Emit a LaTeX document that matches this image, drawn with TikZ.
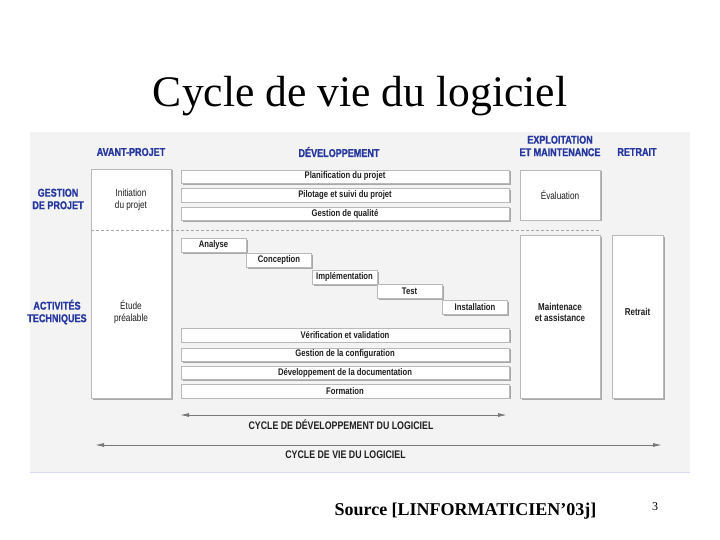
\documentclass[tikz,border=0pt]{standalone}
\usepackage{fontspec}
\setmainfont{Liberation Serif}
\newfontfamily\cond[FakeStretch=0.8]{Liberation Sans}
\newfontfamily\condhv[FakeStretch=0.8,FakeBold=1.2]{Liberation Sans Bold}
\usetikzlibrary{shadows,arrows.meta}
\definecolor{hdrblue}{RGB}{38,56,160}
\definecolor{scanbg}{RGB}{243,243,243}
\definecolor{boxtxt}{RGB}{30,30,30}
\definecolor{arrgray}{RGB}{120,120,120}
\begin{document}
\begin{tikzpicture}[x=1pt,y=-1pt,
  hdr/.style={font=\condhv\fontsize{11.3}{12.5}\selectfont, text=hdrblue, align=center, inner sep=0pt},
  panel/.style={draw=gray!55, line width=0.4pt, fill=white, inner sep=0pt,
    drop shadow={shadow xshift=1.5pt, shadow yshift=-1.5pt, fill=gray, opacity=0.65}},
  bar/.style={panel, minimum width=328pt, minimum height=13.5pt, font=\cond\bfseries\fontsize{9.6}{10}\selectfont, text=boxtxt},
  stepbox/.style={panel, minimum width=65pt, minimum height=14pt, font=\cond\bfseries\fontsize{9.6}{10}\selectfont, text=boxtxt},
  boxlabel/.style={font=\cond\fontsize{10.3}{12}\selectfont, text=boxtxt, align=center, inner sep=0pt},
  boxlabelb/.style={font=\cond\bfseries\fontsize{10}{11.5}\selectfont, text=boxtxt, align=center, inner sep=0pt},
  cyclabel/.style={font=\cond\bfseries\fontsize{11}{12}\selectfont, text=boxtxt, inner sep=0pt},
  cycarrow/.style={draw=arrgray, line width=0.9pt, {Latex[length=9pt,width=4pt]}-{Latex[length=9pt,width=4pt]}}
]
\useasboundingbox (0,0) rectangle (720,540);
\fill[white] (0,0) rectangle (720,540);
% scanned area
\fill[scanbg] (30,132) rectangle (690,472);
\draw[blue!15, line width=1pt] (30,472) -- (690,472);

% title
\node[anchor=base, font=\fontsize{43.6}{48}\selectfont] (title) at (360,107) {Cycle de vie du logiciel};

% column headers
\node[hdr] (hav) at (131,152) {AVANT-PROJET};
\node[hdr] (hdev) at (339,152) {DÉVELOPPEMENT};
\node[hdr] (hexp) at (560,146) {EXPLOITATION\\ET MAINTENANCE};
\node[hdr] (hret) at (637,152) {RETRAIT};
% row headers
\node[hdr] (hgest) at (58,199) {GESTION\\DE PROJET};
\node[hdr] (hact) at (57,312) {ACTIVITÉS\\TECHNIQUES};

% avant-projet box
\node[panel, minimum width=80pt, minimum height=229pt] (avant) at (131,283.5) {};
\node[boxlabel] (init) at (131,200) {Initiation\\du projet};
\node[boxlabel] (etude) at (131,312) {Étude\\préalable};

% management bars
\node[bar] (plan) at (345,176.5) {Planification du projet};
\node[bar] (pilot) at (345,195) {Pilotage et suivi du projet};
\node[bar] (qual) at (345,213.5) {Gestion de qualité};

% evaluation
\node[panel, minimum width=80pt, minimum height=50pt] (eval) at (560,195) {};
\node[boxlabel] (evaltxt) at (560,195) {Évaluation};

% steps
\node[stepbox] (ana) at (213.5,245) {Analyse};
\node[stepbox] (conc) at (279,260) {Conception};
\node[stepbox] (impl) at (344.5,277) {Implémentation};
\node[stepbox] (test) at (409.5,291.5) {Test};
\node[stepbox] (inst) at (475,307) {Installation};

% technical bars
\node[bar] (verif) at (345,335) {Vérification et validation};
\node[bar] (conf) at (345,354.5) {Gestion de la configuration};
\node[bar] (docu) at (345,372.5) {Développement de la documentation};
\node[bar] (form) at (345,391) {Formation};

% maintenance / retrait
\node[panel, minimum width=80pt, minimum height=163pt] (maint) at (560,316.5) {};
\node[boxlabelb] (mainttxt) at (560,312.5) {Maintenace\\et assistance};
\node[panel, minimum width=51pt, minimum height=163pt] (retr) at (637.5,316.5) {};
\node[boxlabelb] (retrtxt) at (637.5,312) {Retrait};

% dashed separator
\coordinate (sepL) at (91,230);
\coordinate (sepR) at (600,230);
\draw[gray!70, line width=0.6pt, dash pattern=on 3pt off 2pt] (sepL) -- (sepR);

% cycle arrows
\coordinate (devL) at (180,415);
\coordinate (devR) at (507,415);
\draw[cycarrow] (devL) -- (devR);
\node[cyclabel] (devlab) at (341,424.5) {CYCLE DE DÉVELOPPEMENT DU LOGICIEL};
\coordinate (lifeL) at (95,445);
\coordinate (lifeR) at (662,445);
\draw[cycarrow] (lifeL) -- (lifeR);
\node[cyclabel] (lifelab) at (345.5,454.5) {CYCLE DE VIE DU LOGICIEL};

% footer
\node[anchor=base, font=\bfseries\fontsize{18}{20}\selectfont] (src) at (465.5,515) {Source [LINFORMATICIEN’03j]};
\node[anchor=base, font=\fontsize{12}{14}\selectfont] (pg) at (655,510) {3};
\end{tikzpicture}
\end{document}
